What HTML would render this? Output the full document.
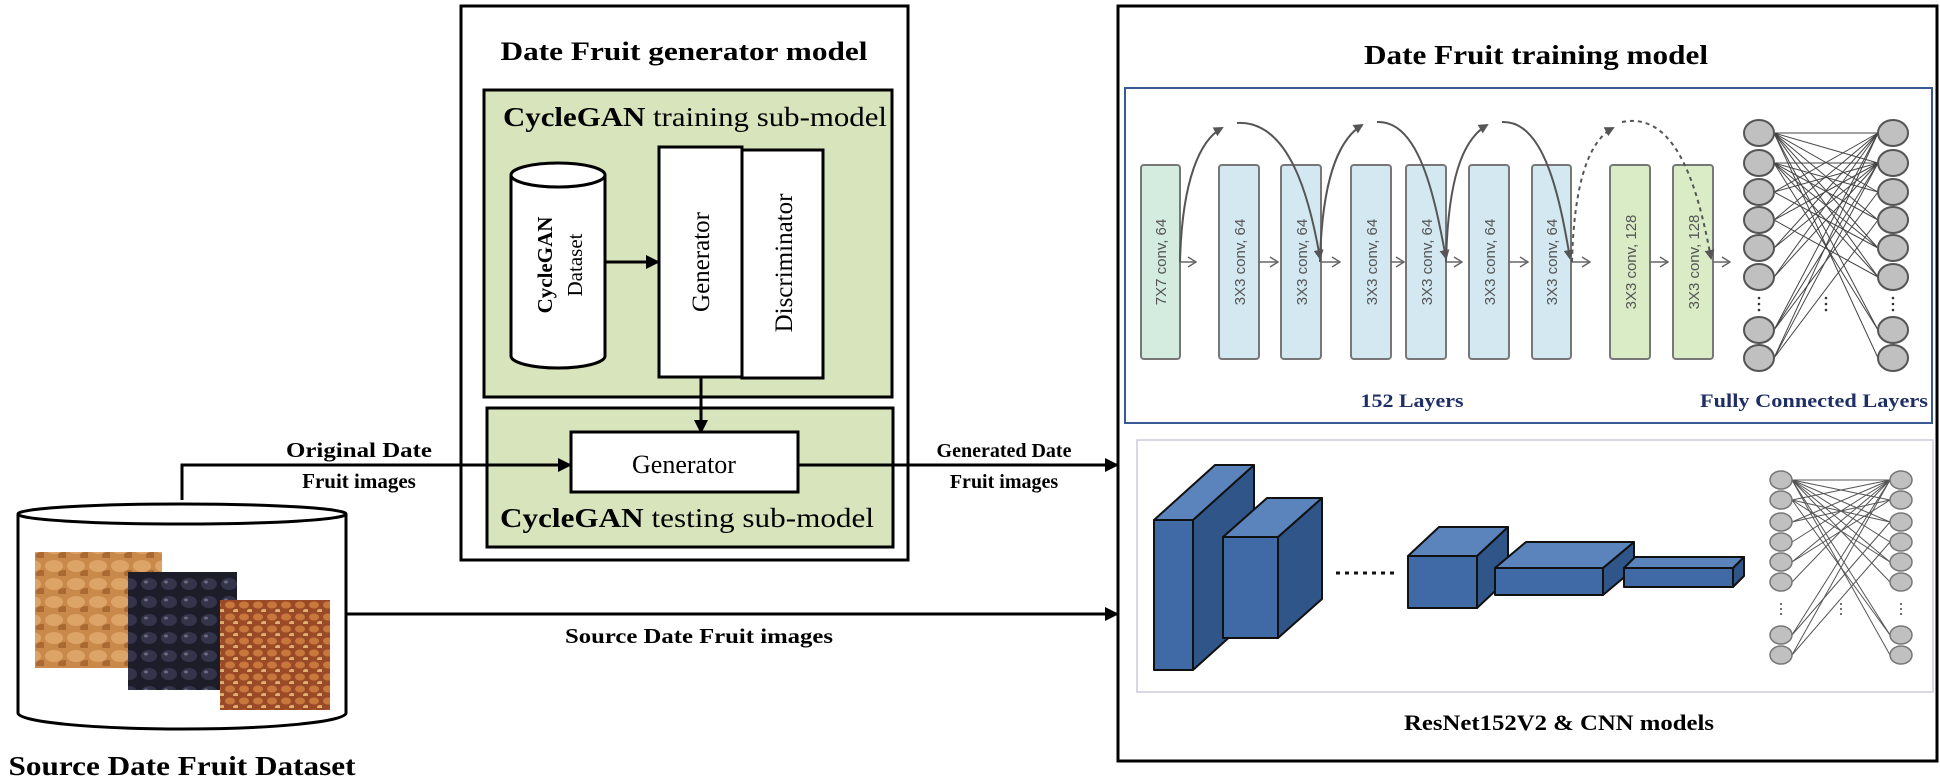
<!DOCTYPE html>
<html><head><meta charset="utf-8"><style>
html,body{margin:0;padding:0;background:#fff;}
svg{display:block;}
.b{font-family:"Liberation Serif",serif;font-weight:bold;fill:#000;}
.r{font-family:"Liberation Serif",serif;fill:#000;}
.s{font-family:"Liberation Sans",sans-serif;fill:#555;font-size:15px;}
</style></head><body>
<svg width="1940" height="781" viewBox="0 0 1940 781" xmlns="http://www.w3.org/2000/svg">
<defs>
<marker id="ah2" markerWidth="14" markerHeight="14" refX="13" refY="7" orient="auto" markerUnits="userSpaceOnUse"><path d="M0,0 L14,7 L0,14 z" fill="#000"/></marker>
<marker id="ga" markerWidth="10" markerHeight="10" refX="8" refY="5" orient="auto" markerUnits="userSpaceOnUse"><path d="M0,0 L10,5 L0,10 z" fill="#555"/></marker>
<marker id="oa" markerWidth="10" markerHeight="12" refX="9" refY="6" orient="auto" markerUnits="userSpaceOnUse"><path d="M1,1 L9,6 L1,11" fill="none" stroke="#666" stroke-width="1.5"/></marker>
<pattern id="p1" width="22" height="18" patternUnits="userSpaceOnUse"><rect width="22" height="18" fill="#c9894a"/><ellipse cx="10" cy="8" rx="9" ry="6" fill="#dca466"/><ellipse cx="20" cy="16" rx="6" ry="4" fill="#a86a32"/></pattern>
<pattern id="p2" width="20" height="18" patternUnits="userSpaceOnUse"><rect width="20" height="18" fill="#1d1d2a"/><ellipse cx="9" cy="8" rx="8" ry="6" fill="#34344a"/><ellipse cx="6" cy="6" rx="2" ry="1.5" fill="#6a6a80"/></pattern>
<pattern id="p3" width="14" height="12" patternUnits="userSpaceOnUse"><rect width="14" height="12" fill="#9a4a26"/><ellipse cx="6" cy="5" rx="5" ry="3.5" fill="#c8783c"/><ellipse cx="12" cy="11" rx="3" ry="2" fill="#e0b070"/></pattern>
</defs>

<rect x="461" y="6" width="447" height="554" fill="#fff" stroke="#000" stroke-width="3"/>
<text x="684" y="60" class="b" font-size="26" text-anchor="middle" textLength="367" lengthAdjust="spacingAndGlyphs">Date Fruit generator model</text>

<rect x="484" y="90" width="408" height="307" fill="#d8e4bc" stroke="#000" stroke-width="3"/>
<text x="503" y="126" class="r" font-size="27" textLength="384" lengthAdjust="spacingAndGlyphs"><tspan font-weight="bold">CycleGAN</tspan> training sub-model</text>

<path d="M511,175 L511,356 A47,12 0 0 0 605,356 L605,175" fill="#fff" stroke="#000" stroke-width="3"/>
<ellipse cx="558" cy="175" rx="47" ry="12" fill="#fff" stroke="#000" stroke-width="3"/>
<text transform="translate(552,265) rotate(-90)" class="b" font-size="21" text-anchor="middle">CycleGAN</text>
<text transform="translate(582,265) rotate(-90)" class="r" font-size="21" text-anchor="middle">Dataset</text>
<line x1="605" y1="262" x2="659" y2="262" stroke="#000" stroke-width="3" marker-end="url(#ah2)"/>

<rect x="659" y="147" width="83" height="230" fill="#fff" stroke="#000" stroke-width="3"/>
<rect x="742" y="150" width="81" height="228" fill="#fff" stroke="#000" stroke-width="3"/>
<text transform="translate(709,262) rotate(-90)" class="r" font-size="25" text-anchor="middle">Generator</text>
<text transform="translate(792,263) rotate(-90)" class="r" font-size="25" text-anchor="middle">Discriminator</text>

<rect x="487" y="408" width="406" height="139" fill="#d8e4bc" stroke="#000" stroke-width="3"/>
<line x1="701" y1="377" x2="701" y2="433" stroke="#000" stroke-width="3" marker-end="url(#ah2)"/>
<rect x="571" y="432" width="227" height="60" fill="#fff" stroke="#000" stroke-width="3"/>
<text x="684" y="473" class="r" font-size="26" text-anchor="middle">Generator</text>
<text x="500" y="527" class="r" font-size="27" textLength="374" lengthAdjust="spacingAndGlyphs"><tspan font-weight="bold">CycleGAN</tspan> testing sub-model</text>

<path d="M18,514 L18,713 A164,16 0 0 0 346,713 L346,514" fill="#fff" stroke="#000" stroke-width="3"/>
<ellipse cx="182" cy="514" rx="164" ry="10" fill="#fff" stroke="#000" stroke-width="3"/>
<rect x="35" y="552" width="127" height="116" fill="url(#p1)"/>
<rect x="128" y="572" width="109" height="118" fill="url(#p2)"/>
<rect x="220" y="600" width="110" height="110" fill="url(#p3)"/>
<text x="182" y="775" class="b" font-size="27" text-anchor="middle" textLength="347" lengthAdjust="spacingAndGlyphs">Source Date Fruit Dataset</text>

<polyline points="182,500 182,465 571,465" fill="none" stroke="#000" stroke-width="3" marker-end="url(#ah2)"/>
<text x="359" y="457" class="b" font-size="21" text-anchor="middle" textLength="146" lengthAdjust="spacingAndGlyphs">Original Date</text>
<text x="359" y="488" class="b" font-size="21" text-anchor="middle">Fruit images</text>

<line x1="798" y1="465" x2="1118" y2="465" stroke="#000" stroke-width="3" marker-end="url(#ah2)"/>
<text x="1004" y="457" class="b" font-size="20" text-anchor="middle">Generated Date</text>
<text x="1004" y="488" class="b" font-size="20" text-anchor="middle">Fruit images</text>

<line x1="346" y1="614" x2="1118" y2="614" stroke="#000" stroke-width="3" marker-end="url(#ah2)"/>
<text x="699" y="643" class="b" font-size="21" text-anchor="middle" textLength="268" lengthAdjust="spacingAndGlyphs">Source Date Fruit images</text>

<rect x="1118" y="6" width="819" height="755" fill="#fff" stroke="#000" stroke-width="3"/>
<text x="1536" y="64" class="b" font-size="27" text-anchor="middle" textLength="344" lengthAdjust="spacingAndGlyphs">Date Fruit training model</text>

<rect x="1125" y="88" width="807" height="335" fill="#fff" stroke="#3a5a95" stroke-width="2"/>

<g stroke="#777" stroke-width="2">
<rect x="1141" y="165" width="39" height="194" rx="3" fill="#d4ecdf"/>
<rect x="1219" y="165" width="40" height="194" rx="3" fill="#d3e8f0"/>
<rect x="1281" y="165" width="40" height="194" rx="3" fill="#d3e8f0"/>
<rect x="1351" y="165" width="40" height="194" rx="3" fill="#d3e8f0"/>
<rect x="1406" y="165" width="40" height="194" rx="3" fill="#d3e8f0"/>
<rect x="1469" y="165" width="40" height="194" rx="3" fill="#d3e8f0"/>
<rect x="1532" y="165" width="39" height="194" rx="3" fill="#d3e8f0"/>
<rect x="1610" y="165" width="40" height="194" rx="3" fill="#d9ecc6"/>
<rect x="1673" y="165" width="40" height="194" rx="3" fill="#d9ecc6"/>
</g>
<g class="s">
<text transform="translate(1166,262) rotate(-90)" text-anchor="middle">7X7 conv, 64</text>
<text transform="translate(1245,262) rotate(-90)" text-anchor="middle">3X3 conv, 64</text>
<text transform="translate(1307,262) rotate(-90)" text-anchor="middle">3X3 conv, 64</text>
<text transform="translate(1377,262) rotate(-90)" text-anchor="middle">3X3 conv, 64</text>
<text transform="translate(1432,262) rotate(-90)" text-anchor="middle">3X3 conv, 64</text>
<text transform="translate(1495,262) rotate(-90)" text-anchor="middle">3X3 conv, 64</text>
<text transform="translate(1557,262) rotate(-90)" text-anchor="middle">3X3 conv, 64</text>
<text transform="translate(1636,262) rotate(-90)" text-anchor="middle">3X3 conv, 128</text>
<text transform="translate(1699,262) rotate(-90)" text-anchor="middle">3X3 conv, 128</text>
</g>
<g stroke="#666" stroke-width="1.5" fill="none">
<line x1="1180" y1="262" x2="1196" y2="262" marker-end="url(#oa)"/>
<line x1="1259" y1="262" x2="1278" y2="262" marker-end="url(#oa)"/>
<line x1="1321" y1="262" x2="1340" y2="262" marker-end="url(#oa)"/>
<line x1="1391" y1="262" x2="1404" y2="262" marker-end="url(#oa)"/>
<line x1="1446" y1="262" x2="1462" y2="262" marker-end="url(#oa)"/>
<line x1="1509" y1="262" x2="1528" y2="262" marker-end="url(#oa)"/>
<line x1="1571" y1="262" x2="1590" y2="262" marker-end="url(#oa)"/>
<line x1="1650" y1="262" x2="1668" y2="262" marker-end="url(#oa)"/>
<line x1="1713" y1="262" x2="1730" y2="262" marker-end="url(#oa)"/>
</g>
<g stroke="#555" stroke-width="2" fill="none">
<path d="M1180,262 C1182,180 1200,140 1222,128" marker-end="url(#ga)"/>
<path d="M1237,123 C1290,120 1310,200 1320,258" marker-end="url(#ga)"/>
<path d="M1320,262 C1322,180 1338,140 1362,125" marker-end="url(#ga)"/>
<path d="M1377,122 C1420,120 1435,200 1446,258" marker-end="url(#ga)"/>
<path d="M1446,262 C1448,180 1462,140 1487,125" marker-end="url(#ga)"/>
<path d="M1502,122 C1545,120 1560,200 1570,258" marker-end="url(#ga)"/>
<path d="M1572,262 C1574,180 1590,140 1613,128" stroke-dasharray="4,4" marker-end="url(#ga)"/>
<path d="M1622,122 C1680,110 1700,200 1711,258" stroke-dasharray="4,4" marker-end="url(#ga)"/>
</g>

<g stroke="#444" stroke-width="1">
<line x1="1774" y1="133" x2="1878" y2="133"/><line x1="1774" y1="133" x2="1878" y2="163"/><line x1="1774" y1="133" x2="1878" y2="192"/><line x1="1774" y1="133" x2="1878" y2="220"/><line x1="1774" y1="133" x2="1878" y2="248"/><line x1="1774" y1="133" x2="1878" y2="277"/><line x1="1774" y1="133" x2="1878" y2="330"/><line x1="1774" y1="133" x2="1878" y2="358"/>
<line x1="1774" y1="163" x2="1878" y2="163"/><line x1="1774" y1="163" x2="1878" y2="192"/><line x1="1774" y1="163" x2="1878" y2="220"/><line x1="1774" y1="163" x2="1878" y2="248"/><line x1="1774" y1="163" x2="1878" y2="277"/><line x1="1774" y1="163" x2="1878" y2="330"/>
<line x1="1774" y1="192" x2="1878" y2="133"/><line x1="1774" y1="220" x2="1878" y2="133"/><line x1="1774" y1="248" x2="1878" y2="133"/><line x1="1774" y1="277" x2="1878" y2="133"/><line x1="1774" y1="330" x2="1878" y2="133"/><line x1="1774" y1="358" x2="1878" y2="133"/>
<line x1="1774" y1="192" x2="1878" y2="163"/><line x1="1774" y1="220" x2="1878" y2="163"/><line x1="1774" y1="248" x2="1878" y2="163"/><line x1="1774" y1="277" x2="1878" y2="163"/><line x1="1774" y1="330" x2="1878" y2="163"/><line x1="1774" y1="358" x2="1878" y2="163"/>
<line x1="1774" y1="192" x2="1878" y2="248"/><line x1="1774" y1="220" x2="1878" y2="277"/><line x1="1774" y1="330" x2="1878" y2="192"/><line x1="1774" y1="358" x2="1878" y2="220"/>
</g>
<g fill="#c0c0c0" stroke="#555" stroke-width="2">
<ellipse cx="1759" cy="133" rx="15" ry="13"/><ellipse cx="1759" cy="163" rx="15" ry="13"/><ellipse cx="1759" cy="192" rx="15" ry="13"/><ellipse cx="1759" cy="220" rx="15" ry="13"/><ellipse cx="1759" cy="248" rx="15" ry="13"/><ellipse cx="1759" cy="277" rx="15" ry="13"/><ellipse cx="1759" cy="330" rx="15" ry="13"/><ellipse cx="1759" cy="358" rx="15" ry="13"/>
<ellipse cx="1893" cy="133" rx="15" ry="13"/><ellipse cx="1893" cy="163" rx="15" ry="13"/><ellipse cx="1893" cy="192" rx="15" ry="13"/><ellipse cx="1893" cy="220" rx="15" ry="13"/><ellipse cx="1893" cy="248" rx="15" ry="13"/><ellipse cx="1893" cy="277" rx="15" ry="13"/><ellipse cx="1893" cy="330" rx="15" ry="13"/><ellipse cx="1893" cy="358" rx="15" ry="13"/>
</g>
<g fill="#333"><circle cx="1759" cy="298" r="1.3"/><circle cx="1759" cy="304" r="1.3"/><circle cx="1759" cy="310" r="1.3"/><circle cx="1893" cy="298" r="1.3"/><circle cx="1893" cy="304" r="1.3"/><circle cx="1893" cy="310" r="1.3"/><circle cx="1826" cy="298" r="1.3"/><circle cx="1826" cy="304" r="1.3"/><circle cx="1826" cy="310" r="1.3"/></g>
<text x="1412" y="407" class="b" font-size="19" style="fill:#1f2f66" text-anchor="middle" textLength="103" lengthAdjust="spacingAndGlyphs">152 Layers</text>
<text x="1814" y="407" class="b" font-size="19" style="fill:#1f2f66" text-anchor="middle" textLength="228" lengthAdjust="spacingAndGlyphs">Fully Connected Layers</text>

<rect x="1137" y="440" width="796" height="252" fill="#fff" stroke="#ccd" stroke-width="1.5"/>
<g stroke="#111" stroke-width="2" stroke-linejoin="round">
<polygon points="1193,520 1254,465 1254,615 1193,670" fill="#2f5589"/>
<polygon points="1154,520 1215,465 1254,465 1193,520" fill="#5a84bb"/>
<rect x="1154" y="520" width="39" height="150" fill="#3f6aa6"/>
<polygon points="1278,537 1322,498 1322,599 1278,638" fill="#2f5589"/>
<polygon points="1223,537 1267,498 1322,498 1278,537" fill="#5a84bb"/>
<rect x="1223" y="537" width="55" height="101" fill="#3f6aa6"/>
<polygon points="1477,556 1508,527 1508,579 1477,608" fill="#2f5589"/>
<polygon points="1408,556 1439,527 1508,527 1477,556" fill="#5a84bb"/>
<rect x="1408" y="556" width="69" height="52" fill="#3f6aa6"/>
<polygon points="1603,568 1634,542 1634,569 1603,595" fill="#2f5589"/>
<polygon points="1495,568 1526,542 1634,542 1603,568" fill="#5a84bb"/>
<rect x="1495" y="568" width="108" height="27" fill="#3f6aa6"/>
<polygon points="1733,568 1744,557 1744,576 1733,587" fill="#2f5589"/>
<polygon points="1624,568 1635,557 1744,557 1733,568" fill="#5a84bb"/>
<rect x="1624" y="568" width="109" height="19" fill="#3f6aa6"/>
</g>
<line x1="1336" y1="573" x2="1397" y2="573" stroke="#111" stroke-width="3" stroke-dasharray="4,5"/>

<g stroke="#555" stroke-width="1">
<line x1="1792" y1="480" x2="1890" y2="480"/><line x1="1792" y1="480" x2="1890" y2="500"/><line x1="1792" y1="480" x2="1890" y2="522"/><line x1="1792" y1="480" x2="1890" y2="542"/><line x1="1792" y1="480" x2="1890" y2="562"/><line x1="1792" y1="480" x2="1890" y2="582"/><line x1="1792" y1="480" x2="1890" y2="635"/><line x1="1792" y1="480" x2="1890" y2="655"/>
<line x1="1792" y1="500" x2="1890" y2="522"/><line x1="1792" y1="500" x2="1890" y2="562"/><line x1="1792" y1="500" x2="1890" y2="635"/>
<line x1="1792" y1="500" x2="1890" y2="480"/><line x1="1792" y1="522" x2="1890" y2="480"/><line x1="1792" y1="542" x2="1890" y2="480"/><line x1="1792" y1="562" x2="1890" y2="480"/><line x1="1792" y1="582" x2="1890" y2="480"/><line x1="1792" y1="635" x2="1890" y2="480"/><line x1="1792" y1="655" x2="1890" y2="480"/>
<line x1="1792" y1="522" x2="1890" y2="500"/><line x1="1792" y1="562" x2="1890" y2="500"/><line x1="1792" y1="635" x2="1890" y2="522"/><line x1="1792" y1="655" x2="1890" y2="542"/>
</g>
<g fill="#c0c0c0" stroke="#777" stroke-width="1.5">
<ellipse cx="1781" cy="480" rx="11" ry="9"/><ellipse cx="1781" cy="500" rx="11" ry="9"/><ellipse cx="1781" cy="522" rx="11" ry="9"/><ellipse cx="1781" cy="542" rx="11" ry="9"/><ellipse cx="1781" cy="562" rx="11" ry="9"/><ellipse cx="1781" cy="582" rx="11" ry="9"/><ellipse cx="1781" cy="635" rx="11" ry="9"/><ellipse cx="1781" cy="655" rx="11" ry="9"/>
<ellipse cx="1901" cy="480" rx="11" ry="9"/><ellipse cx="1901" cy="500" rx="11" ry="9"/><ellipse cx="1901" cy="522" rx="11" ry="9"/><ellipse cx="1901" cy="542" rx="11" ry="9"/><ellipse cx="1901" cy="562" rx="11" ry="9"/><ellipse cx="1901" cy="582" rx="11" ry="9"/><ellipse cx="1901" cy="635" rx="11" ry="9"/><ellipse cx="1901" cy="655" rx="11" ry="9"/>
</g>
<g fill="#444"><circle cx="1781" cy="604" r="1"/><circle cx="1781" cy="609" r="1"/><circle cx="1781" cy="614" r="1"/><circle cx="1901" cy="604" r="1"/><circle cx="1901" cy="609" r="1"/><circle cx="1901" cy="614" r="1"/><circle cx="1841" cy="604" r="1"/><circle cx="1841" cy="609" r="1"/><circle cx="1841" cy="614" r="1"/></g>

<text x="1559" y="730" class="b" font-size="22" text-anchor="middle" textLength="310" lengthAdjust="spacingAndGlyphs">ResNet152V2 &amp; CNN models</text>
</svg>
</body></html>
